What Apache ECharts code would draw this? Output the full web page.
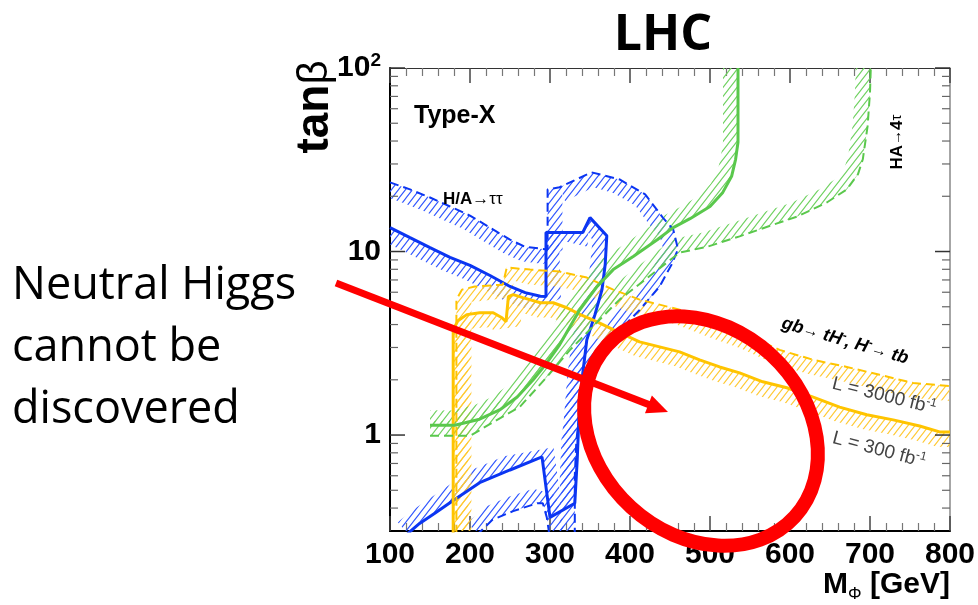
<!DOCTYPE html>
<html>
<head>
<meta charset="utf-8">
<script src="https://cdn.jsdelivr.net/npm/echarts@6/dist/echarts.min.js"></script>
<style>
  html, body { margin: 0; padding: 0; background: #fff; }
  #chart { width: 978px; height: 605px; }
</style>
</head>
<body>
<div id="chart"></div>
<script>
// Type-X 2HDM: LHC discovery contours in the (M_Phi, tan beta) plane.
// Solid curves: L = 3000 fb^-1, dashed curves: L = 300 fb^-1.

// H/A -> tau tau
const tauSolidMass = [100, 125, 150, 175, 200, 225, 250, 269, 288, 295, 295, 341, 350, 371, 369, 365, 356, 346, 340, 336, 334, 331, 300, 290, 250, 212, 179, 156, 137, 122];
const tauSolidTanb = [13.5, 11.9, 10.5, 9.3, 8.4, 7.4, 6.45, 5.97, 5.7, 5.68, 12.7, 12.7, 15.3, 12.2, 8.5, 6.2, 4.5, 3.3, 2.0, 1.21, 0.73, 0.425, 0.356, 0.76, 0.645, 0.55, 0.44, 0.375, 0.33, 0.29];
const tauDashMass = [100, 125, 150, 175, 200, 225, 250, 269, 294, 297, 297, 312, 352, 387, 419, 441, 454, 460, 452, 437, 412, 381, 356, 340, 333, 331, 331];
const tauDashTanb = [23.8, 21.8, 19.7, 17.6, 15.7, 13.5, 11.6, 10.6, 10.3, 10.3, 21.8, 22.4, 27.0, 24.7, 20.5, 15.3, 13.2, 10.3, 8.5, 6.45, 4.8, 3.5, 2.57, 1.65, 0.94, 0.6, 0.29];
const tauDashLowMass = [299, 296, 291, 284, 254, 228, 210];
const tauDashLowTanb = [0.29, 0.356, 0.425, 0.425, 0.385, 0.345, 0.29];

// HA -> 4 tau
const fourTauSolidMass = [150, 181, 212, 237, 259, 279, 296, 312, 337, 359, 379, 404, 434, 454, 475, 500, 516, 527, 532, 535, 535, 535];
const fourTauSolidTanb = [1.13, 1.13, 1.22, 1.37, 1.61, 2.0, 2.47, 3.1, 4.8, 6.45, 7.97, 9.4, 11.6, 13.5, 15.1, 17.6, 21.0, 25.7, 31.8, 39.4, 67.7, 100];
const fourTauDashMass = [150, 200, 234, 262, 296, 325, 356, 387, 419, 462, 496, 537, 579, 609, 646, 671, 685, 691, 697, 700, 701];
const fourTauDashTanb = [0.99, 0.99, 1.21, 1.42, 2.07, 2.91, 4.0, 5.47, 7.03, 9.87, 10.6, 12.1, 14.0, 15.5, 18.5, 21.8, 26.4, 31.8, 48.2, 73.9, 100];

// gb -> tH-, H- -> tb
const tbSolidMass = [179, 179, 185, 196, 212, 229, 240, 245, 248, 254, 266, 288, 304, 321, 338, 359, 379, 412, 462, 487, 512, 537, 566, 596, 629, 662, 696, 729, 762, 787, 800];
const tbSolidTanb = [0.29, 3.75, 4.2, 4.53, 4.64, 4.64, 4.36, 4.14, 5.68, 5.82, 5.61, 5.26, 5.26, 4.94, 4.53, 4.14, 3.75, 3.22, 2.84, 2.57, 2.35, 2.18, 1.95, 1.81, 1.61, 1.42, 1.29, 1.21, 1.12, 1.04, 1.04];
const tbDashMass = [183, 183, 190, 206, 241, 246, 275, 312, 346, 379, 412, 462, 504, 546, 587, 629, 671, 712, 754, 800];
const tbDashTanb = [0.29, 5.47, 6.2, 6.44, 6.6, 8.18, 7.97, 7.78, 7.21, 6.2, 5.47, 4.82, 4.09, 3.52, 2.91, 2.57, 2.35, 2.13, 1.92, 1.85];

// Axes
const massMin = 100, massMax = 800, massStep = 100;
const tanbMin = 0.3, tanbMax = 100;
const tanbDecades = [1, 10, 100];
const tanbDecadeLabels = ['1', '10', '10{sup|2}'];
const tanbTicks = [0.4, 0.5, 0.6, 0.7, 0.8, 0.9, 1, 2, 3, 4, 5, 6, 7, 8, 9, 10, 20, 30, 40, 50, 60, 70, 80, 90, 100];

const BLUE = '#0b35f2', BLUE_H = '#2f55ff';
const YELLOW = '#ffc400', YELLOW_H = '#ffc933';
const GREEN = '#5ac84c', GREEN_H = '#6fd160';
const RED = '#ff0000';
const FONT = '"Liberation Sans", Arial, Helvetica, sans-serif';

function hatchPattern(color) {
  const w = 7, h = 9;
  const c = document.createElement('canvas');
  c.width = w; c.height = h;
  const g = c.getContext('2d');
  g.strokeStyle = color;
  g.lineWidth = 1.1;
  g.beginPath();
  for (let k = 0; k <= 2; k++) {
    // lines x/w + y/h = k
    g.moveTo((k - 2) * w, 2 * h);
    g.lineTo((k + 1) * w, -h);
  }
  g.stroke();
  return { image: c, repeat: 'repeat' };
}

// shift a pixel polyline sideways; positive d = right-hand side of travel
function offsetPolyline(pts, d) {
  const n = pts.length, out = [];
  for (let i = 0; i < n; i++) {
    const a = pts[Math.max(i - 1, 0)], b = pts[Math.min(i + 1, n - 1)];
    let dx = b[0] - a[0], dy = b[1] - a[1];
    const L = Math.hypot(dx, dy) || 1;
    dx /= L; dy /= L;
    out.push([pts[i][0] - dy * d, pts[i][1] + dx * d]);
  }
  return out;
}

function zip(xs, ys) { return xs.map((x, i) => [x, ys[i]]); }

function contourSeries(name, mass, tanb, lineColor, hatchColor, dashed, side) {
  const pts = zip(mass, tanb);
  const fill = hatchPattern(hatchColor);
  const width = 15;
  return [
    {
      name: name + ' band',
      type: 'custom',
      xAxisIndex: 0, yAxisIndex: 0,
      clip: true, silent: true, z: 1,
      data: pts,
      renderItem(params, api) {
        if (params.dataIndex !== 0) return null;
        const px = pts.map(p => api.coord(p));
        const off = offsetPolyline(px, width * side).reverse();
        return {
          type: 'polygon',
          shape: { points: px.concat(off) },
          style: { fill: fill, stroke: null }
        };
      }
    },
    {
      name: name,
      type: 'line',
      xAxisIndex: 0, yAxisIndex: 0,
      data: pts,
      showSymbol: false, symbol: 'none', silent: true, clip: true, z: 3,
      lineStyle: { color: lineColor, width: dashed ? 2 : 3, type: dashed ? [9, 5] : 'solid' }
    }
  ];
}

const tickSeries = {
  type: 'custom',
  xAxisIndex: 0, yAxisIndex: 0,
  silent: true, z: 5,
  data: tanbTicks.map(v => [massMin, v]),
  renderItem(params, api) {
    const v = api.value(1);
    const major = tanbDecades.some(d => Math.abs(d - v) / d < 1e-9);
    const len = major ? 15 : 8;
    const l = api.coord([massMin, v]), r = api.coord([massMax, v]);
    const st = { stroke: major ? '#333' : '#666', lineWidth: major ? 1.5 : 1.2 };
    return {
      type: 'group',
      children: [
        { type: 'line', shape: { x1: l[0], y1: l[1], x2: l[0] + len, y2: l[1] }, style: st },
        { type: 'line', shape: { x1: r[0] - len, y1: r[1], x2: r[0], y2: r[1] }, style: st }
      ]
    };
  }
};

const xAxisCommon = {
  type: 'value', min: massMin, max: massMax, interval: massStep,
  axisTick: { show: true, inside: true, length: 15, lineStyle: { color: '#444', width: 1.5 } },
  minorTick: { show: true, splitNumber: 5, length: 8, lineStyle: { color: '#777', width: 1.2 } },
  splitLine: { show: false }
};

// arrow from the annotation text into the plot
const arrowFrom = [336, 283], arrowTip = [668, 412];
const ux = arrowTip[0] - arrowFrom[0], uy = arrowTip[1] - arrowFrom[1];
const uL = Math.hypot(ux, uy);
const ex = ux / uL, ey = uy / uL;
const headLen = 21, headHalf = 9.5;
const headBase = [arrowTip[0] - ex * headLen, arrowTip[1] - ey * headLen];

const option = {
  animation: false,
  backgroundColor: '#fff',
  grid: { left: 390, top: 68, width: 560, height: 463, outerBoundsMode: 'none' },
  xAxis: [
    Object.assign({}, xAxisCommon, {
      position: 'bottom',
      axisLine: { show: true, onZero: false, lineStyle: { color: '#000', width: 2 } },
      axisLabel: { show: true, margin: 9, color: '#000', fontFamily: FONT, fontWeight: 'bold', fontSize: 30 }
    }),
    Object.assign({}, xAxisCommon, {
      position: 'top',
      axisLine: { show: true, onZero: false, lineStyle: { color: '#333', width: 1 } },
      axisLabel: { show: false }
    })
  ],
  yAxis: [
    {
      type: 'log', logBase: 10, min: tanbMin, max: tanbMax, position: 'left',
      axisLine: { show: true, onZero: false, lineStyle: { color: '#000', width: 2 } },
      axisTick: { show: false },
      splitLine: { show: false },
      axisLabel: {
        margin: 9, color: '#000', fontFamily: FONT, fontWeight: 'bold', fontSize: 30, lineHeight: 34,
        formatter(v) {
          const i = tanbDecades.findIndex(d => Math.abs(d - v) / d < 1e-6);
          return i < 0 ? '' : tanbDecadeLabels[i];
        },
        rich: { sup: { fontFamily: FONT, fontWeight: 'bold', fontSize: 19, lineHeight: 19, verticalAlign: 'top' } }
      }
    },
    {
      type: 'log', logBase: 10, min: tanbMin, max: tanbMax, position: 'right',
      axisLine: { show: true, onZero: false, lineStyle: { color: '#888', width: 1.5 } },
      axisTick: { show: false }, axisLabel: { show: false }, splitLine: { show: false }
    }
  ],
  series: [].concat(
    contourSeries('H/A tautau 300', tauDashMass, tauDashTanb, BLUE, BLUE_H, true, 1),
    contourSeries('H/A tautau 300 low', tauDashLowMass, tauDashLowTanb, BLUE, BLUE_H, true, 1),
    contourSeries('H/A tautau 3000', tauSolidMass, tauSolidTanb, BLUE, BLUE_H, false, 1),
    contourSeries('tb 300', tbDashMass, tbDashTanb, YELLOW, YELLOW_H, true, 1),
    contourSeries('tb 3000', tbSolidMass, tbSolidTanb, YELLOW, YELLOW_H, false, 1),
    contourSeries('4tau 300', fourTauDashMass, fourTauDashTanb, GREEN, GREEN_H, true, -1),
    contourSeries('4tau 3000', fourTauSolidMass, fourTauSolidTanb, GREEN, GREEN_H, false, -1),
    [tickSeries]
  ),
  graphic: [
    { type: 'text', x: 663, y: 36, z: 100,
      style: { text: 'LHC', fontFamily: '"Open Sans"', fontWeight: 'bold', fontSize: 50, fill: '#000', align: 'center', verticalAlign: 'middle' } },
    { type: 'text', x: 315, y: 107, rotation: Math.PI / 2, z: 100,
      style: { text: 'tan{b|β}', fontFamily: FONT, fontWeight: 'bold', fontSize: 46, fill: '#000', align: 'center', verticalAlign: 'middle',
        rich: { b: { fontFamily: FONT, fontWeight: 'normal', fontSize: 42, fill: '#000' } } } },
    { type: 'text', x: 950, y: 585, z: 100,
      style: { text: 'M{sub|Φ} [GeV]', fontFamily: FONT, fontWeight: 'bold', fontSize: 30, lineHeight: 36, fill: '#000', align: 'right', verticalAlign: 'middle',
        rich: { sub: { fontFamily: FONT, fontWeight: 'normal', fontSize: 17, lineHeight: 17, verticalAlign: 'bottom', fill: '#000' } } } },
    { type: 'text', x: 414, y: 116, z: 100,
      style: { text: 'Type-X', fontFamily: FONT, fontWeight: 'bold', fontSize: 25, fill: '#000', align: 'left', verticalAlign: 'middle' } },
    { type: 'text', x: 443, y: 199, z: 100,
      style: { text: 'H/A{n|→ττ}', fontFamily: FONT, fontWeight: 'bold', fontSize: 17, fill: '#000', align: 'left', verticalAlign: 'middle',
        rich: { n: { fontFamily: FONT, fontWeight: 'normal', fontSize: 17, fill: '#000' } } } },
    { type: 'text', x: 897, y: 142, rotation: Math.PI / 2, z: 100,
      style: { text: 'HA{n|→}4{n|τ}', fontFamily: FONT, fontWeight: 'bold', fontSize: 17, fill: '#000', align: 'center', verticalAlign: 'middle',
        rich: { n: { fontFamily: FONT, fontWeight: 'normal', fontSize: 15, fill: '#000' } } } },
    { type: 'text', x: 845, y: 341, rotation: -0.28, z: 100,
      style: { text: 'gb{n|→} tH{sup|-}, H{sup|-}{n|→} tb', fontFamily: FONT, fontWeight: 'bold', fontStyle: 'italic', fontSize: 18, lineHeight: 22, fill: '#000', align: 'center', verticalAlign: 'middle',
        rich: {
          n: { fontFamily: FONT, fontWeight: 'normal', fontSize: 16, lineHeight: 22, fill: '#000' },
          sup: { fontFamily: FONT, fontWeight: 'bold', fontSize: 12, lineHeight: 12, verticalAlign: 'top', fill: '#000' }
        } } },
    { type: 'text', x: 884, y: 396, rotation: -0.24, z: 100,
      style: { text: 'L = 3000 fb{sup|-1}', fontFamily: FONT, fontSize: 19, lineHeight: 22, fill: '#444', align: 'center', verticalAlign: 'middle',
        rich: { sup: { fontFamily: FONT, fontSize: 12, lineHeight: 12, verticalAlign: 'top', fill: '#444' } } } },
    { type: 'text', x: 879, y: 450, rotation: -0.26, z: 100,
      style: { text: 'L = 300 fb{sup|-1}', fontFamily: FONT, fontSize: 19, lineHeight: 22, fill: '#444', align: 'center', verticalAlign: 'middle',
        rich: { sup: { fontFamily: FONT, fontSize: 12, lineHeight: 12, verticalAlign: 'top', fill: '#444' } } } },
    { type: 'text', x: 12, y: 286, z: 100,
      style: { text: 'Neutral Higgs', fontFamily: '"Open Sans"', fontSize: 45, fill: '#000', align: 'left', verticalAlign: 'middle' } },
    { type: 'text', x: 12, y: 348, z: 100,
      style: { text: 'cannot be', fontFamily: '"Open Sans"', fontSize: 45, fill: '#000', align: 'left', verticalAlign: 'middle' } },
    { type: 'text', x: 12, y: 410, z: 100,
      style: { text: 'discovered', fontFamily: '"Open Sans"', fontSize: 45, fill: '#000', align: 'left', verticalAlign: 'middle' } },
    { type: 'line', z: 100,
      shape: { x1: arrowFrom[0], y1: arrowFrom[1], x2: headBase[0] + ex * 2, y2: headBase[1] + ey * 2 },
      style: { stroke: RED, lineWidth: 7 } },
    { type: 'polygon', z: 100,
      shape: { points: [arrowTip,
        [headBase[0] - ey * headHalf, headBase[1] + ex * headHalf],
        [headBase[0] + ey * headHalf, headBase[1] - ex * headHalf]] },
      style: { fill: RED, stroke: null } },
    { type: 'ellipse', x: 701, y: 431, rotation: 0.83, z: 101,
      shape: { cx: 0, cy: 0, rx: 103.5, ry: 127 },
      style: { fill: 'transparent', stroke: RED, lineWidth: 14 } }
  ]
};

const chart = echarts.init(document.getElementById('chart'), null, { renderer: 'canvas' });
chart.setOption(option);
</script>
</body>
</html>
